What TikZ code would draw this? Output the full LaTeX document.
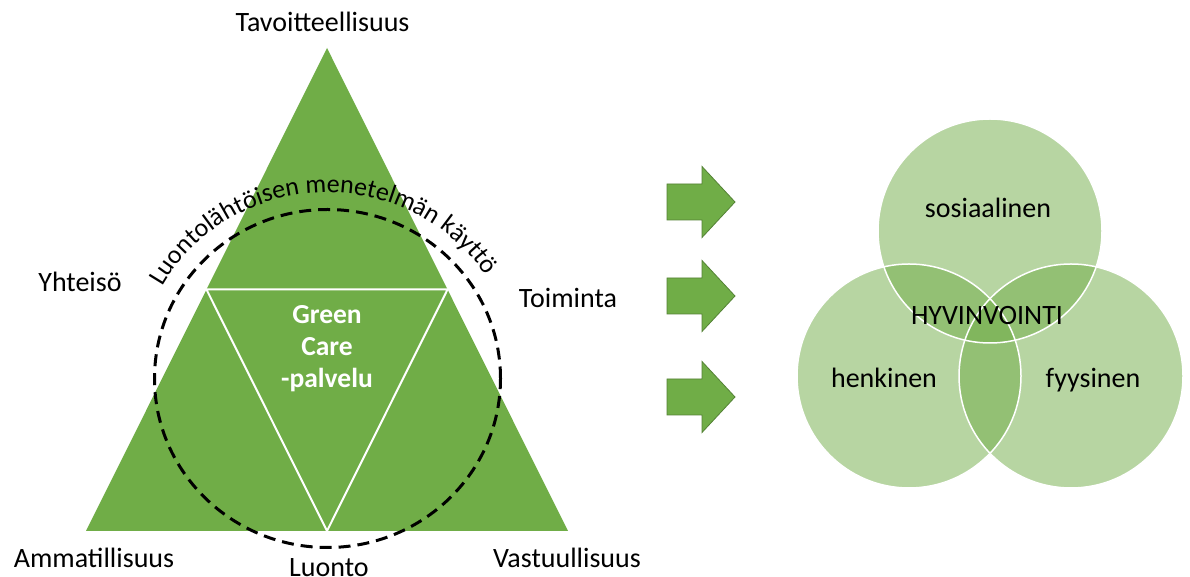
\documentclass[tikz,border=0pt]{standalone}
\usepackage{fontspec}
\setmainfont{Carlito}
\usetikzlibrary{decorations.text}
\definecolor{leaf}{HTML}{70AD47}
\definecolor{leafdark}{HTML}{548235}
\tikzset{
  lbl/.style={font=\fontsize{28}{34}\selectfont, anchor=base, inner sep=0pt, text=black},
  venn/.style={circle, minimum size=224pt, inner sep=0pt, fill=leaf, fill opacity=0.5},
  vennrim/.style={draw=white, line width=1.5pt},
  blockarrow/.pic={
    \path[fill=leaf, draw=leafdark, line width=0.8pt, line join=miter]
      (0,18) -- (35,18) -- (35,35.5) -- (68,0) -- (35,-35.5) -- (35,-18) -- (0,-18) -- cycle;
  }
}
\begin{document}
\begin{tikzpicture}[x=1pt, y=1pt]
  \fill[white] (0,0) rectangle (1190,577);
  \useasboundingbox (0,0) rectangle (1190,577);

  % outer triangle and inner inverted triangle
  \coordinate (apex) at (327,529);
  \coordinate (bl) at (86,46);
  \coordinate (br) at (568,46);
  \coordinate (ml) at (206.5,287.5);
  \coordinate (mr) at (447.5,287.5);
  \coordinate (mb) at (327,46);
  \fill[leaf] (apex) -- (bl) -- (br) -- cycle;
  \draw[white, line width=2pt, line join=miter] (ml) -- (mr) -- (mb) -- cycle;

  \node[inner sep=0pt, align=center, text=white,
        font=\fontsize{27.5}{32}\selectfont\bfseries] (gc) at (327,228)
        {Green\\Care\\-palvelu};

  % dashed ring and text along it
  \coordinate (ring) at (327.5,198.5);
  \draw[black, line width=3pt, dash pattern=on 12pt off 7pt]
    (ring) ellipse[x radius=173, y radius=169];
  \path[decorate, decoration={text along path, text align=center,
        text={|\fontsize{26}{30}\selectfont|Luontolähtöisen menetelmän käyttö}}]
    (ring) ++(155:190 and 186) arc[start angle=155, end angle=29, x radius=190, y radius=186];

  % corner labels
  \node[lbl] (tav) at (322.5,545) {Tavoitteellisuus};
  \node[lbl] (yht) at (80,285) {Yhteisö};
  \node[lbl] (toi) at (568,269) {Toiminta};
  \node[lbl] (amm) at (94,9) {Ammatillisuus};
  \node[lbl] (luo) at (329,0) {Luonto};
  \node[lbl] (vas) at (567,9) {Vastuullisuus};

  % block arrows
  \pic at (667,375) {blockarrow};
  \pic at (667,281) {blockarrow};
  \pic at (667,180) {blockarrow};

  % wellbeing circles
  \node[venn] (soc) at (990,346) {};
  \node[venn] (men) at (909,201) {};
  \node[venn] (phy) at (1071,201) {};
  \draw[vennrim] (soc.center) circle[radius=112];
  \draw[vennrim] (men.center) circle[radius=112];
  \draw[vennrim] (phy.center) circle[radius=112];

  \node[lbl] (tsoc) at (988,359) {sosiaalinen};
  \node[lbl] (thyv) at (987,252) {HYVINVOINTI};
  \node[lbl] (tmen) at (884,189) {henkinen};
  \node[lbl] (tphy) at (1093,189) {fyysinen};
\end{tikzpicture}
\end{document}
